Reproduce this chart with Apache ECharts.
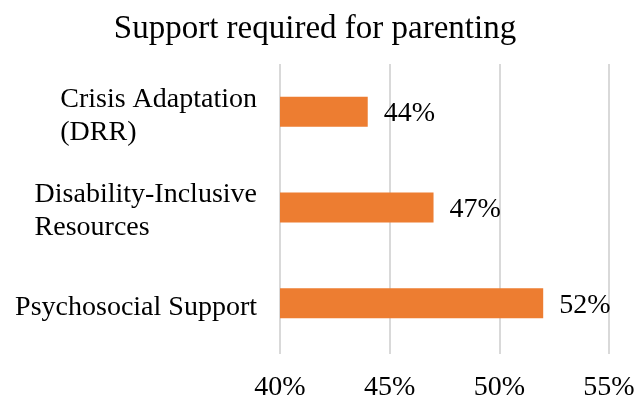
<!DOCTYPE html>
<html>
<head>
<meta charset="utf-8">
<script src="https://cdn.jsdelivr.net/npm/echarts@6/dist/echarts.min.js"></script>
<style>
  html, body { margin: 0; padding: 0; background: #fff; }
  #chart { width: 641px; height: 402px; }
</style>
</head>
<body>
<div id="chart"></div>
<script>
const titleText = 'Support required for parenting';
const categories = ['Crisis Adaptation\n(DRR)', 'Disability-Inclusive\nResources', 'Psychosocial Support'];
const values = [44, 47, 52];
const xMin = 40, xMax = 55, xStep = 5;

const FONT = '"Liberation Serif", "Times New Roman", serif';
const chart = echarts.init(document.getElementById('chart'), null, { renderer: 'canvas' });
chart.setOption({
  animation: false,
  backgroundColor: '#ffffff',
  title: {
    text: titleText,
    left: 310, top: 8, textAlign: 'center',
    textStyle: { fontFamily: FONT, fontSize: 33, fontWeight: 'normal', color: '#000' }
  },
  grid: { left: 280, right: 32, top: 64, bottom: 45, containLabel: false },
  xAxis: {
    type: 'value', min: xMin, max: xMax, interval: xStep,
    axisLine: { show: false },
    axisTick: { show: true, length: 3, lineStyle: { color: '#d9d9d9', width: 2 } },
    splitLine: { show: true, lineStyle: { color: '#d9d9d9', width: 2 } },
    axisLabel: { formatter: '{value}%', margin: 23, fontFamily: FONT, fontSize: 28, color: '#000' }
  },
  yAxis: {
    type: 'category', data: categories, inverse: true,
    axisLine: { show: false }, axisTick: { show: false },
    axisLabel: {
      margin: 23, align: 'right', padding: [8, 0, 0, 0],
      formatter: function (v) {
        return v.split('\n').map(function (l) { return '{a|' + l + '}'; }).join('\n');
      },
      rich: { a: { align: 'left', fontFamily: FONT, fontSize: 28, lineHeight: 33, color: '#000' } }
    }
  },
  series: [{
    type: 'bar', data: values, barWidth: 30,
    itemStyle: { color: '#ED7D31' },
    label: {
      show: true, position: 'right', distance: 16, offset: [0, 2],
      formatter: '{c}%', fontFamily: FONT, fontSize: 28, color: '#000'
    }
  }]
});
</script>
</body>
</html>
